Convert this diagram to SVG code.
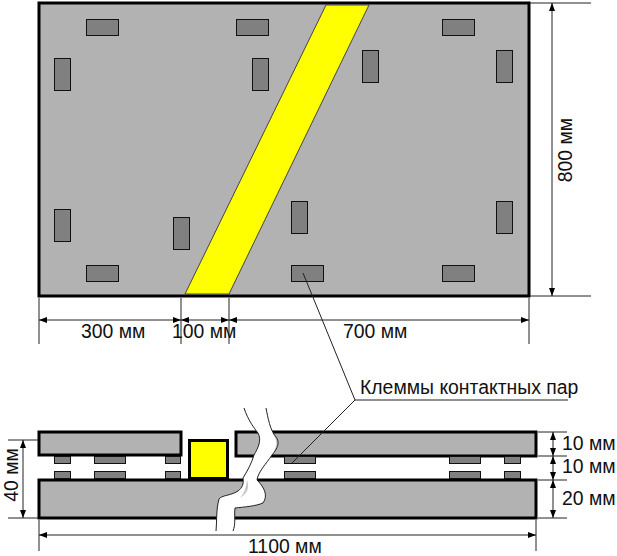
<svg xmlns="http://www.w3.org/2000/svg" width="617" height="556" viewBox="0 0 617 556">
<style>
.plate{fill:#b2b2b2;stroke:#000;stroke-width:3}
.term{fill:#808080;stroke:#111;stroke-width:1}
.yellow{fill:#ff0}
.dim{fill:none;stroke:#222;stroke-width:1}
.both{marker-start:url(#a);marker-end:url(#a)}
.brk{fill:none;stroke:#222;stroke-width:1}
text{font-family:"Liberation Sans",Arial,sans-serif;font-size:19.400px;fill:#111}
</style>
<defs>
<marker id="a" viewBox="0 0 8 6" refX="8" refY="3" markerWidth="8" markerHeight="6" markerUnits="userSpaceOnUse" orient="auto-start-reverse"><path d="M0 0L8 3L0 6Z" fill="#000"/></marker>
</defs>
<rect width="617" height="556" fill="#fff"/>
<g id="plan-plate">
<rect class="plate" x="39" y="3" width="490" height="293"/>
<polygon class="yellow" points="326,5 369,5 229,294 185,294" stroke="#444" stroke-width="1"/>
<rect class="term" x="86.500" y="19.500" width="32" height="16"/>
<rect class="term" x="236.500" y="19.500" width="32" height="16"/>
<rect class="term" x="442.500" y="19.500" width="32" height="16"/>
<rect class="term" x="86.500" y="265.500" width="32" height="16"/>
<rect class="term" x="291.500" y="265.500" width="32" height="16"/>
<rect class="term" x="442.500" y="265.500" width="32" height="16"/>
<rect class="term" x="54.500" y="58.500" width="16" height="32"/>
<rect class="term" x="252.500" y="58.500" width="16" height="32"/>
<rect class="term" x="362.500" y="50.500" width="16" height="32"/>
<rect class="term" x="496.500" y="50.500" width="16" height="32"/>
<rect class="term" x="54.500" y="209.500" width="16" height="32"/>
<rect class="term" x="173.500" y="217.500" width="16" height="32"/>
<rect class="term" x="291.500" y="201.500" width="16" height="32"/>
<rect class="term" x="496.500" y="201.500" width="16" height="32"/>
</g>
<g id="section">
<rect class="plate" x="39" y="432" width="142" height="23"/>
<rect class="plate" x="236" y="432" width="300" height="24"/>
<rect class="plate" x="39" y="480" width="497" height="38"/>
<rect class="yellow" x="189.500" y="440.500" width="38" height="38" stroke="#000" stroke-width="3"/>
<g class="term-row">
<rect class="term" x="54.500" y="456.500" width="16" height="7"/>
<rect class="term" x="94.500" y="456.500" width="31" height="7"/>
<rect class="term" x="165.500" y="456.500" width="15" height="7"/>
<rect class="term" x="284.500" y="456.500" width="31" height="7"/>
<rect class="term" x="449.500" y="456.500" width="31" height="7"/>
<rect class="term" x="504.500" y="456.500" width="16" height="7"/>
<rect class="term" x="54.500" y="471.500" width="16" height="7"/>
<rect class="term" x="94.500" y="471.500" width="31" height="7"/>
<rect class="term" x="165.500" y="471.500" width="15" height="7"/>
<rect class="term" x="284.500" y="471.500" width="31" height="7"/>
<rect class="term" x="449.500" y="471.500" width="31" height="7"/>
<rect class="term" x="504.500" y="471.500" width="16" height="7"/>
</g>
</g>
<g id="connectors">
<path class="dim" d="M39 298V344M181 298V344M229 298V344M529 298V344M530 3H591M530 296H591M8 440H38M8 518H38M39 520V551M536 520V551M538 432H567M538 456H567M538 480H567M538 518H567"/>
<path class="dim both" d="M39 320H181"/>
<path class="dim both" d="M181 320H229"/>
<path class="dim both" d="M229 320H529"/>
<path class="dim both" d="M552 3V296"/>
<path class="dim both" d="M23 440V518"/>
<path class="dim both" d="M39 535H536"/>
<path class="dim both" d="M553 432V456"/>
<path class="dim both" d="M553 456V480"/>
<path class="dim both" d="M553 480V518"/>
<path class="dim" d="M568 400H355L303 273M355 400L292 463"/>
</g>
<g id="break">
<path fill="#fff" d="M244 408C248 420 254 428 258 433C262 440 258 448 254 455C252 462 248 470 243 478C244 484 242 488 238 491C230 496 222 495 219 499C216 510 217 520 216 531H233C236 524 234 516 235 508C245 507 256 506 263 503C268 496 265 488 257 480C258 472 266 464 272 455C278 448 280 442 276 437C270 430 268 418 266 408Z"/>
<path fill="#c8c8c8" d="M272 433C280 438 279 446 273 454L276 446C277 440 275 437 272 433ZM247 480C250 488 247 494 240 498C245 492 246 487 247 480Z"/>
<path class="brk" d="M244 408C248 420 254 428 258 433C262 440 258 448 254 455C252 462 248 470 243 478C244 484 242 488 238 491C230 496 222 495 219 499C216 510 217 520 216 531M266 408C268 418 270 430 276 437C280 442 278 448 272 455C266 464 258 472 257 480C265 488 268 496 263 503C256 506 245 507 235 508C234 516 236 524 233 531"/>
</g>
<g id="labels">
<text x="81" y="338">300 мм</text>
<text x="172" y="338">100 мм</text>
<text x="343" y="338">700 мм</text>
<text transform="translate(572 150) rotate(-90)" text-anchor="middle">800 мм</text>
<text transform="translate(18 475) rotate(-90)" text-anchor="middle">40 мм</text>
<text x="360" y="394">Клеммы контактных пар</text>
<text x="562" y="450">10 мм</text>
<text x="562" y="473">10 мм</text>
<text x="562" y="505">20 мм</text>
<text x="248" y="553">1100 мм</text>
</g>
</svg>
